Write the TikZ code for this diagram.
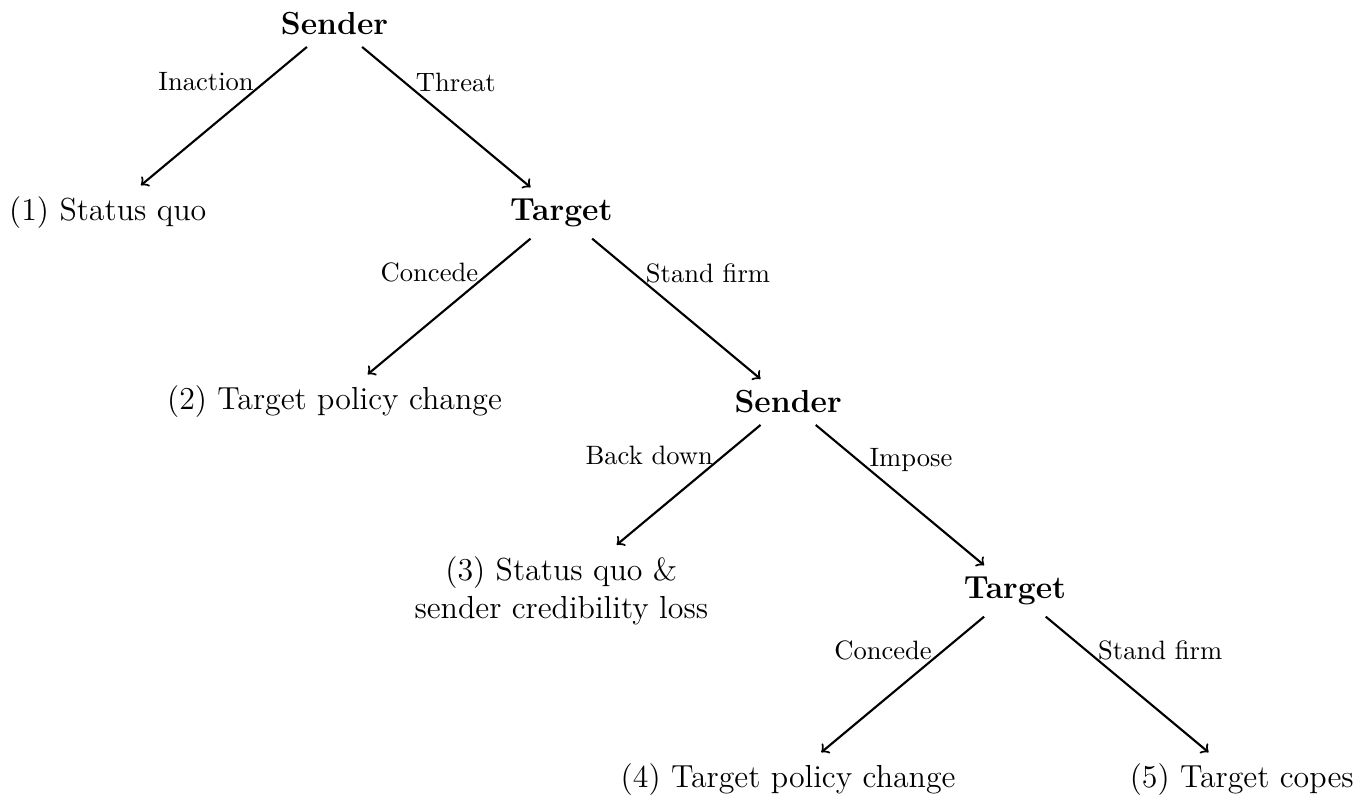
\documentclass[tikz,border=0pt,12pt]{standalone}
\tikzstyle{player}=[font=\bfseries]
\tikzstyle{outcome}=[align=center]
\tikzstyle{move}=[font=\footnotesize]

\begin{document}
\begin{tikzpicture}[thick]
		\useasboundingbox (-4.425,0.317) rectangle (13.67,-10.21);
		\node (s1) at (0,0) [player] {Sender};
		\node (o1) at (-3,-2.5) [outcome] {(1) Status quo};
		\node (t1) at (3,-2.5) [player] {Target};
		\node (o2) at (0,-5) [outcome] {(2) Target policy change};
		\node (s2) at (6,-5) [player] {Sender};
		\node (o3) at (3,-7.5) [outcome] {(3) Status quo \&\\ sender credibility loss};
		\node (t2) at (9,-7.5) [player] {Target};
		\node (o4) at (6,-10) [outcome] {(4) Target policy change};
		\node (o5) at (12,-10) [outcome] {(5) Target copes};

		\draw [->] (s1)--(o1) node [move,left,pos=.25] {Inaction};
		\draw [->] (s1)--(t1) node [move,right,pos=.25] {Threat};
		\draw [->] (t1)--(o2) node [move,left,pos=.25] {Concede};
		\draw [->] (t1)--(s2) node [move,right,pos=.25] {Stand firm};
		\draw [->] (s2)--(o3) node [move,left,pos=.25] {Back down};
		\draw [->] (s2)--(t2) node [move,right,pos=.25] {Impose};
		\draw [->] (t2)--(o4) node [move,left,pos=.25] {Concede};
		\draw [->] (t2)--(o5) node [move,right,pos=.25] {Stand firm};
	\end{tikzpicture}
\end{document}
